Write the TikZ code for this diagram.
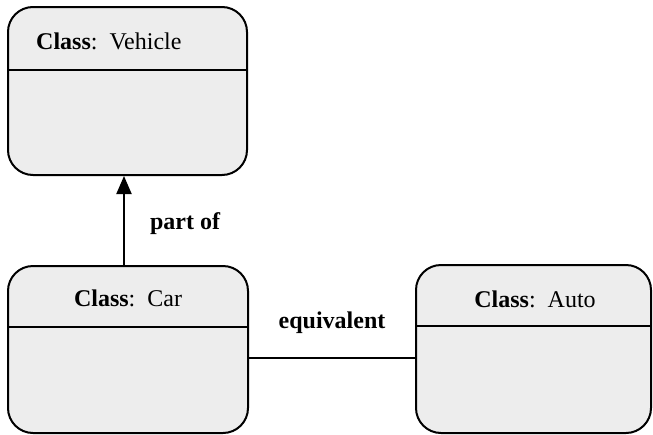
\documentclass[tikz,border=0pt]{standalone}
\usepackage{fontspec}
\setmainfont{Liberation Serif}
\usetikzlibrary{arrows.meta}
\begin{document}
\begin{tikzpicture}[x=1pt,y=-1pt,
  classbox/.style={draw=black,line width=2pt,fill=black!7,rounded corners=25pt,inner sep=0pt},
  divider/.style={draw=black,line width=2pt},
  conn/.style={draw=black,line width=2pt},
  title/.style={inner sep=0pt,font=\fontsize{24}{28}\selectfont},
  lbl/.style={inner sep=0pt,font=\fontsize{24}{28}\selectfont\bfseries}]
\useasboundingbox (0,0) rectangle (653,434);
\node[classbox,minimum width=239pt,minimum height=168pt] (vehicle) at (127.5,91) {};
\node[classbox,minimum width=240pt,minimum height=167pt] (car) at (128,349.5) {};
\node[classbox,minimum width=235pt,minimum height=168pt] (auto) at (533.5,349) {};
\draw[divider] (vehicle.west |- 0,70) -- (vehicle.east |- 0,70);
\draw[divider] (car.west |- 0,327) -- (car.east |- 0,327);
\draw[divider] (auto.west |- 0,326) -- (auto.east |- 0,326);
\node[title,anchor=west] (tv) at (36,41) {\textbf{Class}:\ \ Vehicle};
\node[title] (tc) at (128,298) {\textbf{Class}:\ \ Car};
\node[title] (ta) at (535,299) {\textbf{Class}:\ \ Auto};
\coordinate (ax) at (124,0);
\coordinate (ey) at (0,358);
\draw[conn,-{Triangle[length=18pt,width=15pt]}] (car.north -| ax) -- (vehicle.south -| ax);
\draw[conn] (car.east |- ey) -- (auto.west |- ey);
\node[lbl] (partof) at (185,224) {part of};
\node[lbl] (equiv) at (332,323) {equivalent};
\end{tikzpicture}
\end{document}
